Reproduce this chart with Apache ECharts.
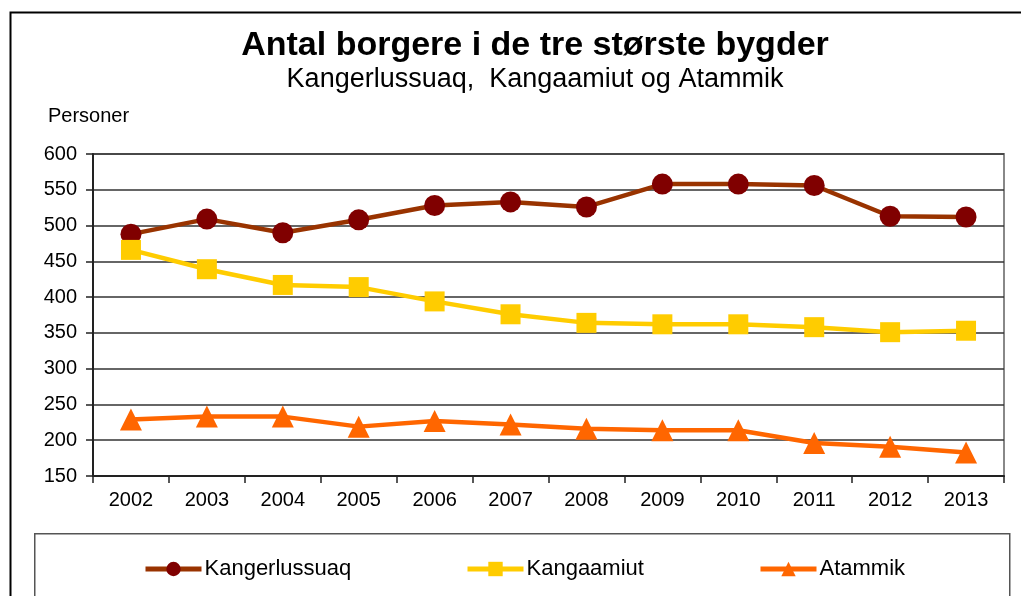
<!DOCTYPE html>
<html>
<head>
<meta charset="utf-8">
<script src="https://cdn.jsdelivr.net/npm/echarts@6/dist/echarts.min.js"></script>
<style>
  html, body { margin: 0; padding: 0; background: #fff; }
  #chart { width: 1021px; height: 596px; }
</style>
</head>
<body>
<div id="chart"></div>
<script>
const years = ['2002', '2003', '2004', '2005', '2006', '2007', '2008', '2009', '2010', '2011', '2012', '2013'];
const kangerlussuaq = [488, 509, 490, 508, 528, 533, 526, 558, 558, 556, 513, 512];
const kangaamiut = [466, 439, 417, 414, 394, 376, 364, 362, 362, 358, 351, 353];
const atammik = [229, 233, 233, 219, 227, 222, 216, 214, 214, 196, 191, 183];
const yTicks = [150, 600, 50];

const font = 'Liberation Sans, Arial, sans-serif';
const myChart = echarts.init(document.getElementById('chart'));

function lineSeries(name, data, lineColor, markColor, symbol, size) {
  return {
    name: name,
    type: 'line',
    data: data,
    symbol: symbol,
    symbolSize: size,
    lineStyle: { color: lineColor, width: 4.5 },
    itemStyle: { color: markColor },
    color: lineColor,
    z: 3
  };
}

function legendAt(name, left) {
  return {
    data: [name],
    top: 558,
    left: left,
    padding: 0,
    itemWidth: 56,
    itemHeight: 18,
    lineStyle: { width: 5 },
    textStyle: { fontSize: 22, color: '#000', fontFamily: font, padding: [0, 0, 0, -2] }
  };
}

myChart.setOption({
  animation: false,
  textStyle: { fontFamily: font },
  title: [
    {
      text: 'Antal borgere i de tre største bygder',
      left: 530, top: 24, textAlign: 'center',
      textStyle: { fontSize: 34, fontWeight: 'bold', color: '#000', fontFamily: font }
    },
    {
      text: 'Kangerlussuaq,  Kangaamiut og Atammik',
      left: 530, top: 61, textAlign: 'center',
      textStyle: { fontSize: 27, fontWeight: 'normal', color: '#000', fontFamily: font }
    },
    {
      text: 'Personer',
      left: 43, top: 101,
      textStyle: { fontSize: 20, fontWeight: 'normal', color: '#000', fontFamily: font }
    }
  ],
  graphic: [
    {
      type: 'rect', left: 8, top: 10,
      shape: { width: 1030, height: 600 },
      style: { fill: 'none', stroke: '#000', lineWidth: 2 },
      z: -1
    },
    {
      type: 'rect', left: 34, top: 533,
      shape: { width: 975, height: 80 },
      style: { fill: '#fff', stroke: '#555', lineWidth: 1.5 },
      z: -1
    }
  ],
  legend: [
    legendAt('Kangerlussuaq', 143),
    legendAt('Kangaamiut', 465),
    legendAt('Atammik', 758)
  ],
  grid: {
    left: 93, top: 154, right: 17, bottom: 120,
    show: true, borderColor: '#888', borderWidth: 2
  },
  xAxis: {
    type: 'category',
    data: years,
    boundaryGap: true,
    axisLine: { lineStyle: { color: '#222', width: 2 } },
    axisTick: { show: true, inside: false, length: 7, lineStyle: { color: '#222', width: 1.5 } },
    axisLabel: { fontSize: 20, color: '#000', margin: 14 },
    splitLine: { show: false }
  },
  yAxis: {
    type: 'value',
    min: yTicks[0], max: yTicks[1], interval: yTicks[2],
    axisLine: { show: true, lineStyle: { color: '#222', width: 2 } },
    axisTick: { show: true, length: 7, lineStyle: { color: '#222', width: 1.5 } },
    axisLabel: { fontSize: 20, color: '#000', margin: 16 },
    splitLine: { lineStyle: { color: '#333', width: 1.5 } }
  },
  series: [
    lineSeries('Kangerlussuaq', kangerlussuaq, '#993300', '#800000', 'circle', 21),
    lineSeries('Kangaamiut', kangaamiut, '#FFCC00', '#FFCC00', 'rect', 20),
    lineSeries('Atammik', atammik, '#FF6600', '#FF6600', 'triangle', 22)
  ]
});
window.addEventListener('resize', myChart.resize);
</script>
</body>
</html>
